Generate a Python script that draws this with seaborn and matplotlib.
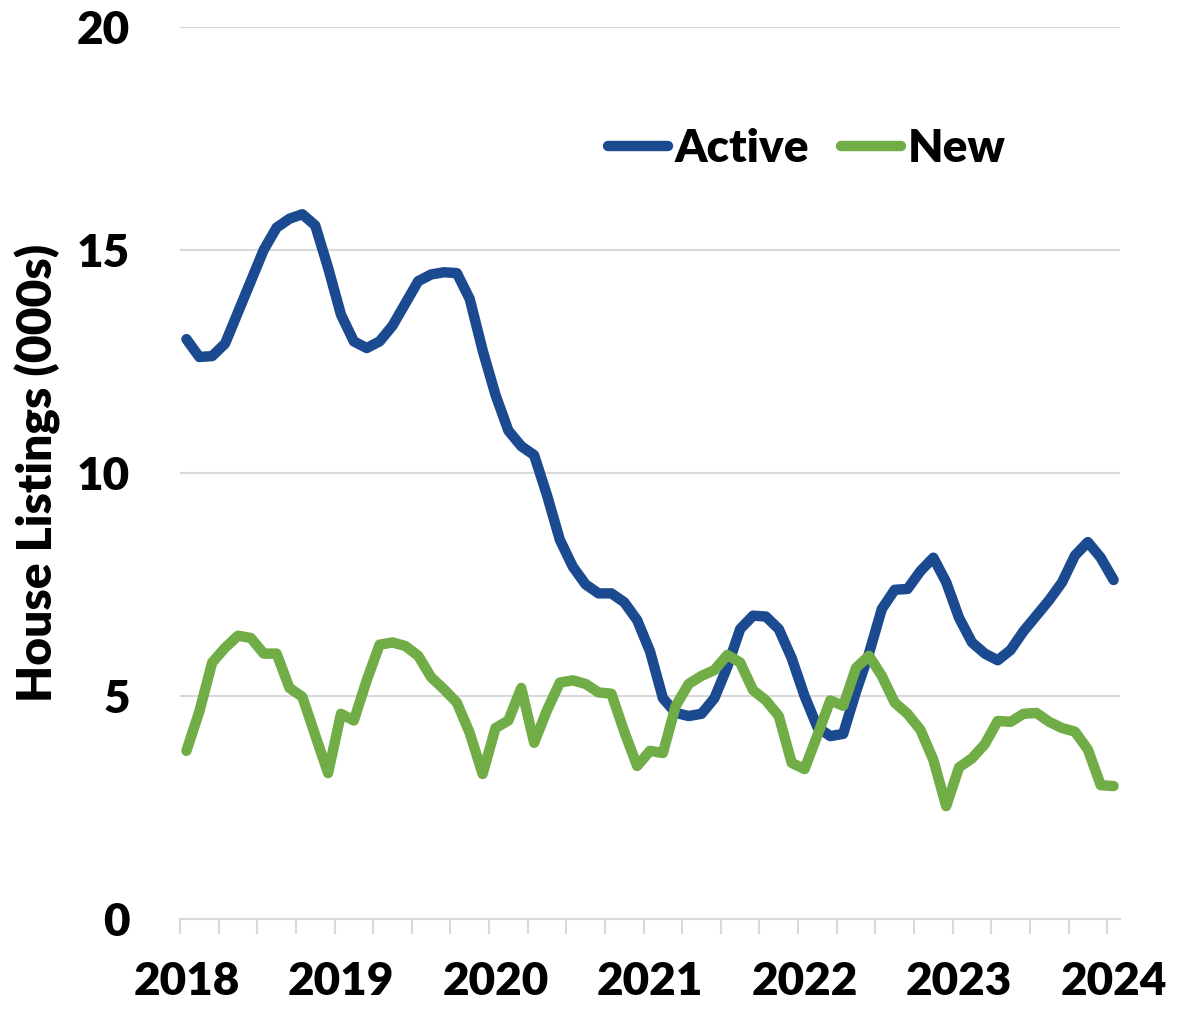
import matplotlib
matplotlib.use("Agg")
import matplotlib.pyplot as plt
import numpy as np
import pandas as pd
import seaborn as sns

# monthly house listings (000s), Jan 2018 - Jan 2024
active = [13.0, 12.6, 12.62, 12.9, 13.6, 14.3, 15.0, 15.5, 15.7, 15.8, 15.55, 14.6,
          13.55, 12.95, 12.8, 12.95, 13.3, 13.8, 14.3, 14.45, 14.5, 14.48, 13.9, 12.75,
          11.75, 10.95, 10.6, 10.4, 9.5, 8.5, 7.9, 7.5, 7.3, 7.3, 7.1, 6.7,
          6.0, 4.95, 4.62, 4.55, 4.6, 4.95, 5.65, 6.5, 6.8, 6.78, 6.5, 5.85,
          5.0, 4.3, 4.1, 4.15, 5.1, 5.95, 6.95, 7.38, 7.4, 7.8, 8.1, 7.55,
          6.75, 6.2, 5.95, 5.8, 6.03, 6.45, 6.8, 7.15, 7.55, 8.15, 8.45, 8.1,
          7.6]
new = [3.77, 4.65, 5.75, 6.08, 6.35, 6.3, 5.95, 5.95, 5.18, 4.98, 4.12, 3.27,
       4.6, 4.45, 5.35, 6.15, 6.2, 6.12, 5.9, 5.42, 5.15, 4.85, 4.17, 3.25,
       4.28, 4.45, 5.18, 3.95, 4.68, 5.3, 5.35, 5.27, 5.08, 5.05, 4.2, 3.43,
       3.77, 3.72, 4.78, 5.27, 5.45, 5.58, 5.92, 5.75, 5.13, 4.9, 4.55, 3.5,
       3.36, 4.12, 4.9, 4.78, 5.63, 5.9, 5.45, 4.85, 4.6, 4.24, 3.57, 2.53,
       3.4, 3.6, 3.92, 4.44, 4.42, 4.6, 4.62, 4.42, 4.28, 4.2, 3.8, 3.0,
       2.98]
years = ["2018", "2019", "2020", "2021", "2022", "2023", "2024"]
months = list(range(len(active)))

blue = "#1B4A90"
green = "#70AD47"
grid_grey = "#D9D9D9"

sns.set_style("white")
plt.rcParams["font.family"] = ["Lato", "DejaVu Sans"]
plt.rcParams["font.weight"] = "heavy"
plt.rcParams["text.color"] = "black"
plt.rcParams["xtick.color"] = "black"
plt.rcParams["ytick.color"] = "black"
plt.rcParams["axes.labelcolor"] = "black"

fig = plt.figure(figsize=(11.78, 10.16), dpi=100)
ax = fig.add_axes([0.1528, 0.0955, 0.798, 0.878])

line_kw = dict(linewidth=7.5, solid_capstyle="round", solid_joinstyle="round")
sns.lineplot(x=months, y=active, color=blue, label="Active", ax=ax, **line_kw)
sns.lineplot(x=months, y=new, color=green, label="New", ax=ax, **line_kw)

ax.set_ylim(0, 20)
ax.set_xlim(-0.5, len(active) - 0.5)
ax.set_yticks([0, 5, 10, 15, 20])
ax.yaxis.grid(True, color=grid_grey, linewidth=1.5)
ax.set_axisbelow(True)

ax.set_xticks(np.arange(0, len(active), 12))
ax.set_xticklabels(years)
ax.set_xticks(np.arange(-0.5, len(active) - 1, 3), minor=True)
ax.tick_params(axis="x", which="major", length=0, pad=30, labelsize=33)
ax.tick_params(axis="x", which="minor", length=11, width=1.5, color=grid_grey, bottom=True)
ax.tick_params(axis="y", length=0, pad=36, labelsize=33)
for lbl in ax.get_xticklabels() + ax.get_yticklabels():
    lbl.set_fontweight("heavy")

for side in ["left", "top", "right"]:
    ax.spines[side].set_visible(False)
ax.spines["bottom"].set_color(grid_grey)
ax.spines["bottom"].set_linewidth(1.5)

ax.set_xlabel("")
ax.set_ylabel("House Listings (000s)", fontsize=34.5, fontweight="heavy", labelpad=11)

ax.legend(loc="center", bbox_to_anchor=(0.667, 0.864), ncol=2, frameon=False,
          handlelength=1.3, handletextpad=0.15, columnspacing=0.7,
          prop={"weight": "heavy", "size": 33})

fig.savefig("out.png", dpi=100)
